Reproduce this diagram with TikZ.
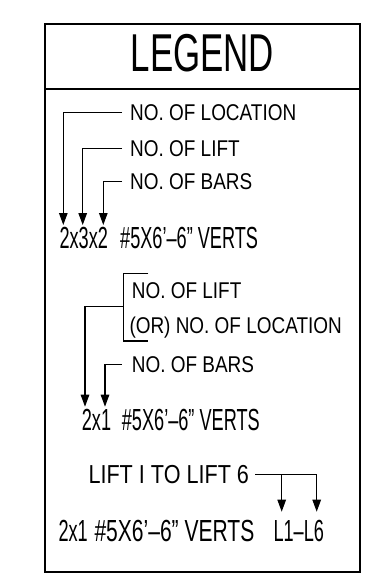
\documentclass[tikz,border=0pt]{standalone}
\usepackage{fontspec}
\setmainfont{Liberation Sans}
\newfontfamily\titlefont[FakeStretch=0.654]{Liberation Sans}
\newfontfamily\notefont[FakeStretch=0.831]{Liberation Sans}
\newfontfamily\markfont[FakeStretch=0.595]{Liberation Sans}
\newfontfamily\markwidefont[FakeStretch=0.69]{Liberation Sans}
\usetikzlibrary{arrows.meta}

\begin{document}
\begin{tikzpicture}[x=1pt,y=-1pt]
		\tikzset{heading/.style={inner sep=0, anchor=base, font=\titlefont\fontsize{53.3}{60}\selectfont}}
		\tikzset{note/.style={inner sep=0, anchor=base west, font=\notefont\fontsize{22.8}{26}\selectfont}}
		\tikzset{spec/.style={inner sep=0, anchor=base west, font=\markfont\fontsize{30.5}{34}\selectfont}}
		\tikzset{widespec/.style={spec, font=\markwidefont\fontsize{30.5}{34}\selectfont}}
		\tikzset{ldr/.style={draw, line width=1.2pt, -{Triangle[length=12pt,width=8.5pt]}}}
		\tikzset{frame/.style={draw, line width=1.8pt}}
		\useasboundingbox (0,0) rectangle (381,576);
		\draw[frame] (45,24) rectangle (360,571.7);
		\draw[frame] (45,88.7) -- (360,88.7);
		\node[heading] at (202.5,71.7) (head) {LEGEND};
		% location x lift x bars
		\node[note] at (130,120.7) (loc1) {NO. OF LOCATION};
		\node[note] at (130,156.7) (lift1) {NO. OF LIFT};
		\node[note] at (130,189.3) (bars1) {NO. OF BARS};
		\node[spec] at (59.3,248.3) (qty1) {2x3x2};
		\node[spec] at (120,248.3) (bar1) {\#5X6’–6” VERTS};
		\coordinate (tip1) at (63.3,225);
		\coordinate (tip2) at (82.7,225);
		\coordinate (tip3) at (103.3,225);
		\draw[ldr] ([xshift=-8pt]loc1.west) -| (tip1);
		\draw[ldr] ([xshift=-8pt]lift1.west) -| (tip2);
		\draw[ldr] ([xshift=-8pt]bars1.west) -| (tip3);
		% lift or location x bars
		\node[note] at (131.7,298.3) (lift2) {NO. OF LIFT};
		\node[note] at (129.3,333.3) (loc2) {(OR) NO. OF LOCATION};
		\node[note] at (131.7,372.7) (bars2) {NO. OF BARS};
		\node[spec] at (81.7,430) (qty2) {2x1};
		\node[spec] at (121.7,430) (bar2) {\#5X6’–6” VERTS};
		\coordinate (brk) at (123.3,306.7);
		\coordinate (tip4) at (85,406.7);
		\coordinate (tip5) at (105,406.7);
		\draw[line width=1.2pt] (148.3,273.3) -| (123.3,341) -- (148.3,341);
		\draw[ldr] (brk) -| (tip4);
		\draw[ldr] ([xshift=-10pt]bars2.west) -| (tip5);
		% lift range
		\node[note, font=\notefont\fontsize{26}{30}\selectfont] at (88.3,483.3) (range3) {LIFT I TO LIFT 6};
		\node[spec] at (58.3,541.7) (qty3) {2x1};
		\node[widespec] at (94.3,541.7) (bar3) {\#5X6’–6” VERTS};
		\node[spec] at (273.3,541.7) (lifts3) {L1–L6};
		\coordinate (tip6) at (281.7,511.7);
		\coordinate (tip7) at (316.7,511.7);
		\draw[ldr] ([xshift=6pt]range3.east) -| (tip7);
		\draw[ldr] (tip6 |- range3.east) -- (tip6);
	\end{tikzpicture}
\end{document}
